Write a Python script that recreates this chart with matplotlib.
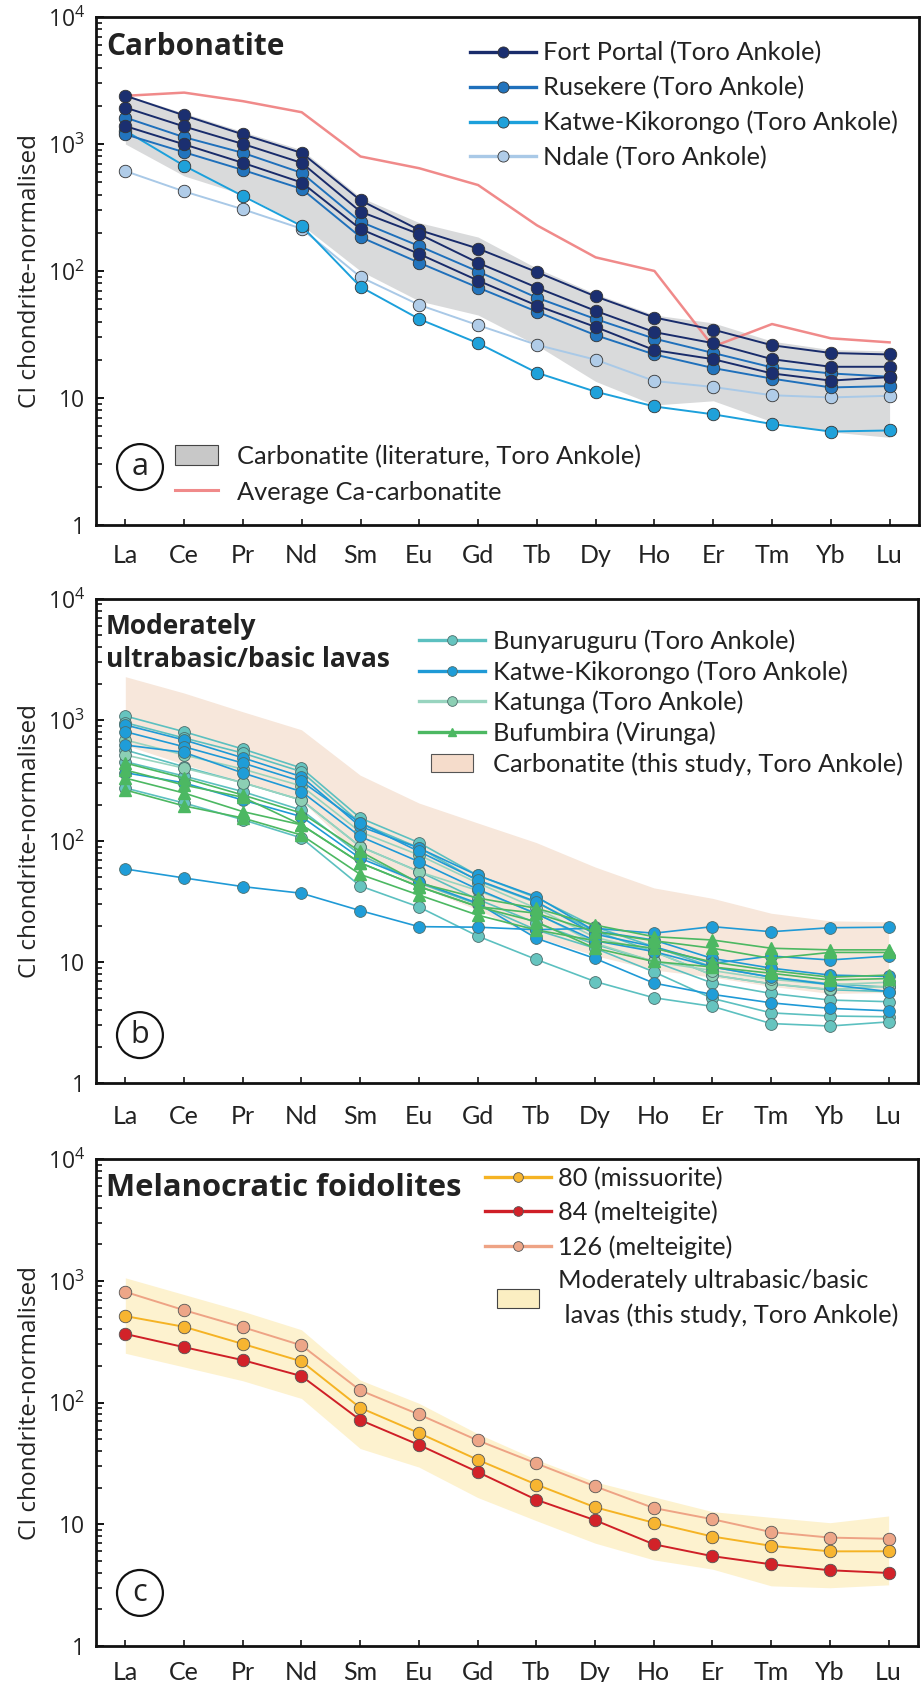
import matplotlib
matplotlib.use("Agg")
import matplotlib.pyplot as plt
import numpy as np
from matplotlib.lines import Line2D
from matplotlib.patches import Patch, Rectangle
from matplotlib.legend_handler import HandlerPatch
from matplotlib.ticker import LogLocator, NullFormatter

plt.rcParams["mathtext.fontset"] = "custom"
plt.rcParams["mathtext.rm"] = "Open Sans"

ree = ["La", "Ce", "Pr", "Nd", "Sm", "Eu", "Gd", "Tb", "Dy", "Ho", "Er", "Tm", "Yb", "Lu"]

# ---- panel a : carbonatites ----
fort_portal = [
    [2400, 1680, 1190, 850, 360, 210, 150, 98, 63, 43, 34.5, 26, 22.6, 22],
    [1935, 1373, 1000, 710, 293, 195, 116, 74, 48.5, 33, 27, 20.2, 17.6, 17.6],
    [1383, 993, 710, 497, 214, 136, 84, 53.4, 36.2, 23.8, 20.2, 15.6, 13.7, 14.6],
]
rusekere = [
    [1614, 1131, 851, 592, 244, 157, 99, 61.6, 41.8, 29.3, 22.6, 17.4, 15.6, 14.7],
    [1191, 861, 624, 443, 185, 116, 74, 47.8, 31.2, 22, 17.2, 14.2, 12.1, 12.4],
]
katwe_carb = [1271, 674, 389, 226, 75, 41.8, 27, 15.8, 11.2, 8.57, 7.43, 6.24, 5.44, 5.55]
ndale = [612, 423, 306, 215, 89.6, 54, 37.4, 26.2, 20, 13.6, 12.2, 10.5, 10.1, 10.4]
avg_ca_carb = [2395, 2538, 2173, 1778, 797, 644, 475, 229, 128, 100, 25.4, 38.2, 29.5, 27.4]
lit_carb_hi = [2450, 1750, 1250, 900, 380, 240, 185, 105, 66, 45, 39, 28, 24, 23.5]
lit_carb_lo = [1000, 560, 400, 230, 100, 58, 45, 26, 13.5, 8.8, 9.5, 6.5, 5.4, 4.9]

# ---- panel b : lavas ----
bunyaruguru = [
    [1079, 800, 576, 401, 155, 97, 52, 34, 19.5, 13.4, 9.1, 7.5, 6.6, 6.2],
    [950, 710, 533, 374, 141, 88, 47, 31, 18, 12.2, 7.8, 6.6, 5.9, 5.7],
    [565, 411, 303, 218, 90, 56, 33, 21, 14, 10.1, 6.7, 5.5, 4.85, 4.7],
    [452, 344, 256, 180, 77, 45, 30, 18.4, 13, 8.3, 5.0, 3.8, 3.58, 3.53],
    [274, 206, 150, 106, 42.5, 28.5, 16.4, 10.5, 6.9, 5.07, 4.3, 3.1, 2.96, 3.2],
]
katwe_lava = [
    [910, 684, 487, 340, 132, 87.5, 52, 34.7, 18, 15.2, 10.7, 8.9, 7.8, 7.6],
    [800, 601, 441, 311, 141, 82, 47.6, 31.5, 17, 13.4, 9.75, 11.2, 10.4, 11.2],
    [621, 540, 365, 256, 109, 67.5, 40, 25, 15, 12.2, 9.1, 7.5, 6.5, 5.7],
    [367, 302, 218, 159, 72, 46, 30.6, 15.7, 10.7, 6.7, 5.4, 4.6, 4.14, 3.95],
    [58.7, 49.5, 42, 37, 26.6, 19.6, 19.4, 18.5, 19, 17.3, 19.6, 17.8, 19.2, 19.4],
]
katunga = [
    [684, 514, 393, 285, 119, 76.6, 45, 27.8, 16, 12.2, 7.8, 6.6, 5.95, 6.3],
    [514, 400, 303, 218, 90, 55.7, 39, 25.3, 14.3, 10.1, 8.5, 7.2, 6.5, 6.8],
]
bufumbira = [
    [441, 331, 240, 170, 82, 45, 33.8, 27.8, 20.2, 16.2, 15.2, 13, 12.6, 12.6],
    [386, 290, 230, 136, 66, 42, 28.7, 25.3, 17.8, 15, 13, 10.7, 12, 12],
    [331, 249, 175, 136, 66, 42, 28.7, 21.5, 13, 10.1, 9.1, 8.07, 7.1, 7.3],
    [264, 195, 155, 112, 53, 35.8, 24.4, 18.4, 15, 13, 10, 8.5, 7.5, 7.8],
]
carb_study_hi = [2280, 1670, 1170, 830, 350, 206, 141, 97, 61, 41, 33.6, 25.3, 21.9, 21.5]
carb_study_lo = [620, 430, 305, 215, 75, 42, 27, 16, 11.3, 8.6, 7.5, 6.3, 5.5, 5.6]

# ---- panel c : foidolites ----
s80 = [513, 419, 303, 218, 90.6, 56.2, 33.9, 21.2, 13.8, 10.3, 7.93, 6.65, 5.99, 6.0]
s84 = [366, 285, 223, 165, 71.9, 44.9, 26.9, 15.9, 10.8, 6.85, 5.47, 4.69, 4.19, 3.98]
s126 = [811, 574, 416, 295, 126, 79.9, 48.9, 31.6, 20.5, 13.6, 11.0, 8.63, 7.77, 7.6]
lava_study_hi = [1058, 771, 562, 396, 153, 98.6, 55.5, 34, 22.3, 16.8, 12.7, 11.4, 10.3, 11.7]
lava_study_lo = [254, 196, 151, 108, 41.9, 29.5, 16.6, 10.7, 7.0, 5.1, 4.28, 3.12, 3.01, 3.18]

x = np.arange(len(ree))
TXT = "#222222"
LEG_FONT = {"family": "Lato", "size": 18.3}


def small_rect(legend, orig_handle, xdescent, ydescent, width, height, fontsize):
    w = width * 0.64
    return Rectangle((-xdescent + (width - w) / 2, -ydescent), w, height)


def style_axes(ax, xpad):
    ax.set_yscale("log")
    ax.set_ylim(1, 1e4)
    ax.set_xlim(-0.5, 13.5)
    ax.set_xticks(x)
    ax.set_xticklabels(ree, fontfamily="Lato", fontsize=18, color=TXT)
    ax.set_yticks([1, 10, 100, 1000, 10000])
    ax.set_yticklabels(["1", "10", r"$\mathregular{10^2}$", r"$\mathregular{10^3}$",
                        r"$\mathregular{10^4}$"], fontfamily="Open Sans", fontsize=16.5, color=TXT)
    ax.yaxis.set_minor_locator(LogLocator(base=10, subs=np.arange(2, 10)))
    ax.yaxis.set_minor_formatter(NullFormatter())
    ax.tick_params(axis="y", which="major", direction="in", length=6, width=1.3, pad=8)
    ax.tick_params(axis="y", which="minor", direction="in", length=4.5, width=1.1)
    ax.tick_params(axis="x", which="both", direction="in", length=4, width=1.1, pad=xpad)
    for sp in ax.spines.values():
        sp.set_linewidth(2)
        sp.set_color("#111111")
    ax.set_ylabel("CI chondrite-normalised", fontfamily="Open Sans", fontsize=17.5, color=TXT)
    ax.yaxis.set_label_coords(-0.066, 0.5)


def panel_tag(ax, letter, yfrac):
    ax.text(0.0535, yfrac, letter, transform=ax.transAxes, ha="center", va="center",
            fontsize=22, fontfamily="Open Sans", color=TXT,
            bbox=dict(boxstyle="circle,pad=0.26", fc="none", ec="#111111", lw=1.6))


def title(ax, text, y, size, va="center"):
    ax.text(0.012, y, text, transform=ax.transAxes, ha="left", va=va, fontsize=size,
            fontweight="bold", fontfamily="Open Sans", color=TXT, linespacing=1.3)


def grey_texts(leg):
    for t in leg.get_texts():
        t.set_color(TXT)


fig = plt.figure(figsize=(9.21, 16.82), dpi=100)
ax_a = fig.add_axes([0.1042, 0.6879, 0.8936, 0.3020])
ax_b = fig.add_axes([0.1042, 0.3561, 0.8925, 0.2878])
ax_c = fig.add_axes([0.1042, 0.0214, 0.8925, 0.2895])

# ---------------- a ----------------
ax = ax_a
style_axes(ax, 14)
ax.fill_between(x, lit_carb_lo, lit_carb_hi, color="#d9dadb", lw=0, zorder=1)
ax.plot(x, avg_ca_carb, color="#f08a8a", lw=1.8, zorder=2)
mk = dict(marker="o", ms=9, mew=0.6, mec="#333333")
ax.plot(x, ndale, color="#a9c9e7", lw=1.4, mfc="#b0cce8", zorder=3, **mk)
ax.plot(x, katwe_carb, color="#1ca0db", lw=1.4, mfc="#1fa1da", zorder=3, **mk)
for s in rusekere:
    ax.plot(x, s, color="#1f70bb", lw=1.4, mfc="#2274bd", zorder=4, **mk)
for s in fort_portal:
    ax.plot(x, s, color="#192c6b", lw=1.4, mfc="#1b2f70", zorder=5, **mk)
title(ax, "Carbonatite", 0.941, 21.5)
h = [Line2D([], [], color="#192c6b", lw=2.4, marker="o", ms=8, mfc="#1b2f70", mec="#333333", mew=0.6),
     Line2D([], [], color="#1f70bb", lw=2.4, marker="o", ms=8, mfc="#2274bd", mec="#333333", mew=0.6),
     Line2D([], [], color="#1ca0db", lw=2.4, marker="o", ms=8, mfc="#1fa1da", mec="#333333", mew=0.6),
     Line2D([], [], color="#a9c9e7", lw=2.4, marker="o", ms=8, mfc="#b0cce8", mec="#333333", mew=0.6)]
leg = ax.legend(h, ["Fort Portal (Toro Ankole)", "Rusekere (Toro Ankole)",
                    "Katwe-Kikorongo (Toro Ankole)", "Ndale (Toro Ankole)"],
                loc="upper left", bbox_to_anchor=(0.454, 0.952), frameon=False, borderpad=0,
                borderaxespad=0, handlelength=2.6, handletextpad=0.3, labelspacing=0.45,
                prop=LEG_FONT)
grey_texts(leg)
ax.add_artist(leg)
h2 = [Patch(fc="#c8c8c8", ec="#444444", lw=0.8), Line2D([], [], color="#f08a8a", lw=2.2)]
leg2 = ax.legend(h2, ["Carbonatite (literature, Toro Ankole)", "Average Ca-carbonatite"],
                 loc="upper left", bbox_to_anchor=(0.096, 0.158), frameon=False, borderpad=0,
                 borderaxespad=0, handlelength=1.7, handleheight=0.85, handletextpad=0.75,
                 labelspacing=0.5, prop=LEG_FONT)
grey_texts(leg2)
panel_tag(ax, "a", 0.114)

# ---------------- b ----------------
ax = ax_b
style_axes(ax, 16)
ax.fill_between(x, carb_study_lo, carb_study_hi, color="#f7e7db", lw=0, zorder=1)
mk = dict(marker="o", ms=8.5, mew=0.6, mec="#4d6e6c")
for s in bunyaruguru:
    ax.plot(x, s, color="#5cc0c0", lw=1.2, mfc="#66c4bf", zorder=2, **mk)
for s in katunga:
    ax.plot(x, s, color="#98d4bf", lw=1.2, mfc="#8ccfb4", zorder=2, **mk)
for s in katwe_lava:
    ax.plot(x, s, color="#1f9ad6", lw=1.2, mfc="#1f9dd8", zorder=3, **mk)
for s in bufumbira:
    ax.plot(x, s, color="#4cb862", lw=1.2, marker="^", ms=8.5, mfc="#4cb862", mec="#4cb862",
            zorder=4)
title(ax, "Moderately\nultrabasic/basic lavas", 0.972, 19, va="top")
h = [Line2D([], [], color="#5cc0c0", lw=2.4, marker="o", ms=7, mfc="#66c4bf", mec="#4d6e6c", mew=0.6),
     Line2D([], [], color="#1f9ad6", lw=2.4, marker="o", ms=7, mfc="#1f9dd8", mec="#4d6e6c", mew=0.6),
     Line2D([], [], color="#98d4bf", lw=2.4, marker="o", ms=7, mfc="#8ccfb4", mec="#4d6e6c", mew=0.6),
     Line2D([], [], color="#4cb862", lw=2.4, marker="^", ms=6, mfc="#4cb862", mec="#4cb862"),
     Patch(fc="#f5dccb", ec="#555555", lw=0.8)]
leg = ax.legend(h, ["Bunyaruguru (Toro Ankole)", "Katwe-Kikorongo (Toro Ankole)",
                    "Katunga (Toro Ankole)", "Bufumbira (Virunga)",
                    "Carbonatite (this study, Toro Ankole)"],
                loc="upper left", bbox_to_anchor=(0.393, 0.937), frameon=False, borderpad=0,
                borderaxespad=0, handlelength=2.6, handleheight=0.75, handletextpad=0.3,
                labelspacing=0.28, prop=LEG_FONT,
                handler_map={Patch: HandlerPatch(patch_func=small_rect)})
grey_texts(leg)
panel_tag(ax, "b", 0.099)

# ---------------- c ----------------
ax = ax_c
style_axes(ax, 11)
ax.fill_between(x, lava_study_lo, lava_study_hi, color="#fdf2cf", lw=0, zorder=1)
mk = dict(marker="o", ms=9, mew=0.6, mec="#555555")
ax.plot(x, s126, color="#eea385", lw=1.4, mfc="#eda688", zorder=2, **mk)
ax.plot(x, s80, color="#f5b324", lw=1.4, mfc="#f7b531", zorder=3, **mk)
ax.plot(x, s84, color="#cf1f27", lw=1.4, mfc="#d22229", zorder=4, **mk)
title(ax, "Melanocratic foidolites", 0.94, 22.3)
h = [Line2D([], [], color="#f5b324", lw=2.4, marker="o", ms=7, mfc="#f7b531", mec="#555555", mew=0.6),
     Line2D([], [], color="#cf1f27", lw=2.4, marker="o", ms=7, mfc="#d22229", mec="#555555", mew=0.6),
     Line2D([], [], color="#eea385", lw=2.4, marker="o", ms=7, mfc="#eda688", mec="#555555", mew=0.6),
     Patch(fc="#fbeec2", ec="#444444", lw=0.8)]
leg = ax.legend(h, ["80 (missuorite)", "84 (melteigite)", "126 (melteigite)",
                    "Moderately ultrabasic/basic\n lavas (this study, Toro Ankole)"],
                loc="upper left", bbox_to_anchor=(0.473, 0.984), frameon=False, borderpad=0,
                borderaxespad=0, handlelength=2.6, handleheight=0.75, handletextpad=0.3,
                labelspacing=0.42, prop=LEG_FONT,
                handler_map={Patch: HandlerPatch(patch_func=small_rect)})
grey_texts(leg)
leg.get_texts()[-1].set_linespacing(1.55)
panel_tag(ax, "c", 0.109)

fig.savefig("out.png", dpi=100)
